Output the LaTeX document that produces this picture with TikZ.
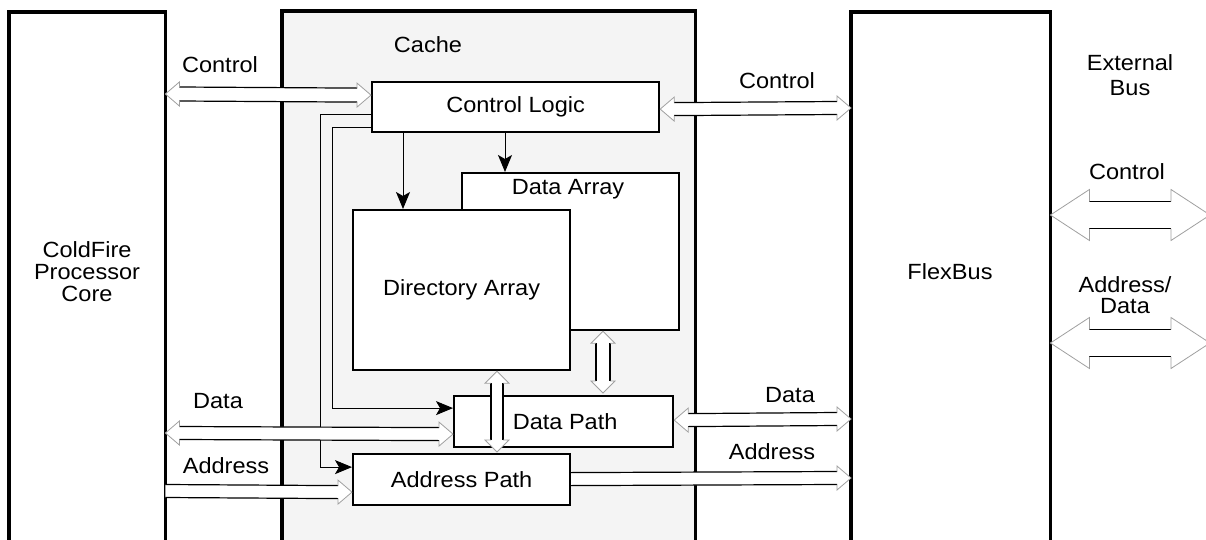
\documentclass[tikz,border=0pt]{standalone}
\usepackage{fontspec}
\setmainfont{Liberation Sans}[FakeStretch=1.07]
\usetikzlibrary{arrows.meta,calc}
\definecolor{cachebg}{HTML}{F4F4F4}
\definecolor{headgray}{HTML}{A0A0A0}

% horizontal hollow double arrow: #1 left tip, #2 right tip, #3 half body, #4 half head, #5 head length
\newcommand\dblH[5]{%
  \fill[white] (#1) -- ([shift={(#5,-#4)}]#1) -- ([shift={(#5,-#3)}]#1) -- ([shift={(-#5,-#3)}]#2) -- ([shift={(-#5,-#4)}]#2) -- (#2) -- ([shift={(-#5,#4)}]#2) -- ([shift={(-#5,#3)}]#2) -- ([shift={(#5,#3)}]#1) -- ([shift={(#5,#4)}]#1) -- cycle;
  \draw[bodyline] ([shift={(#5,-#3)}]#1) -- ([shift={(-#5,-#3)}]#2);
  \draw[bodyline] ([shift={(#5,#3)}]#1) -- ([shift={(-#5,#3)}]#2);
  \draw[headline] ([shift={(#5,-#3)}]#1) -- ([shift={(#5,-#4)}]#1) -- (#1) -- ([shift={(#5,#4)}]#1) -- ([shift={(#5,#3)}]#1);
  \draw[headline] ([shift={(-#5,-#3)}]#2) -- ([shift={(-#5,-#4)}]#2) -- (#2) -- ([shift={(-#5,#4)}]#2) -- ([shift={(-#5,#3)}]#2);
}
% horizontal hollow single arrow (head at right)
\newcommand\sglH[5]{%
  \fill[white] ([shift={(0,-#3)}]#1) -- ([shift={(-#5,-#3)}]#2) -- ([shift={(-#5,-#4)}]#2) -- (#2) -- ([shift={(-#5,#4)}]#2) -- ([shift={(-#5,#3)}]#2) -- ([shift={(0,#3)}]#1) -- cycle;
  \draw[bodyline] ([shift={(0,-#3)}]#1) -- ([shift={(-#5,-#3)}]#2);
  \draw[bodyline] ([shift={(0,#3)}]#1) -- ([shift={(-#5,#3)}]#2);
  \draw[headline] ([shift={(-#5,-#3)}]#2) -- ([shift={(-#5,-#4)}]#2) -- (#2) -- ([shift={(-#5,#4)}]#2) -- ([shift={(-#5,#3)}]#2);
}
% vertical hollow double arrow: #1 top tip, #2 bottom tip
\newcommand\dblV[5]{%
  \fill[white] (#1) -- ([shift={(-#4,#5)}]#1) -- ([shift={(-#3,#5)}]#1) -- ([shift={(-#3,-#5)}]#2) -- ([shift={(-#4,-#5)}]#2) -- (#2) -- ([shift={(#4,-#5)}]#2) -- ([shift={(#3,-#5)}]#2) -- ([shift={(#3,#5)}]#1) -- ([shift={(#4,#5)}]#1) -- cycle;
  \draw[bodyline] ([shift={(-#3,#5)}]#1) -- ([shift={(-#3,-#5)}]#2);
  \draw[bodyline] ([shift={(#3,#5)}]#1) -- ([shift={(#3,-#5)}]#2);
  \draw[headline] ([shift={(-#3,#5)}]#1) -- ([shift={(-#4,#5)}]#1) -- (#1) -- ([shift={(#4,#5)}]#1) -- ([shift={(#3,#5)}]#1);
  \draw[headline] ([shift={(-#3,-#5)}]#2) -- ([shift={(-#4,-#5)}]#2) -- (#2) -- ([shift={(#4,-#5)}]#2) -- ([shift={(#3,-#5)}]#2);
}

\begin{document}
\begin{tikzpicture}[x=1pt,y=-1pt,
  font=\fontsize{22}{22}\selectfont,
  bigbox/.style={draw=none,inner sep=0pt,anchor=north west},
  bigline/.style={line width=3.2pt},
  box/.style={draw,line width=2.2pt,fill=white,inner sep=0pt,anchor=north west},
  lbl/.style={inner sep=0pt,align=center},
  bodyline/.style={black,line width=1.2pt},
  headline/.style={headgray,line width=0.8pt,line join=miter},
  conn/.style={line width=1pt,-{Stealth[length=17pt,width=14pt,inset=4pt]}}]
\useasboundingbox (0,0) rectangle (1206,540);

% big blocks
\node[bigbox,minimum width=156,minimum height=528] (core) at (9,12) {};
\node[bigbox,fill=cachebg,minimum width=413,minimum height=529] (cache) at (282,11) {};
\node[bigbox,minimum width=199,minimum height=528] (flex) at (851,12) {};
\draw[bigline] (core.south west) |- (core.north east) -- (core.south east);
\draw[bigline] (cache.south west) |- (cache.north east) -- (cache.south east);
\draw[bigline] (flex.south west) |- (flex.north east) -- (flex.south east);

\node[lbl,font=\fontsize{22}{22}\selectfont] (coretxt) at (87,272) {ColdFire\\Processor\\Core};
\node[lbl] (cachetxt) at (428,45) {Cache};
\node[lbl] (flextxt) at (950,272) {FlexBus};
\node[lbl,font=\fontsize{22}{25}\selectfont] (exttxt) at (1130,75) {External\\Bus};

% inner blocks
\node[box,minimum width=287,minimum height=50] (ctl) at (371,81) {Control Logic};
\node[box,minimum width=217,minimum height=157] (da) at (461,172) {};
\node[lbl] (datxt) at (568,189) {Data Array};
\node[box,minimum width=217,minimum height=160] (dir) at (352,209) {Directory Array};
\node[box,minimum width=219,minimum height=51] (dp) at (453,395) {\hspace*{3pt}Data Path};
\node[box,minimum width=217,minimum height=51] (ap) at (352,453) {Address Path};

% control connectors
\coordinate (apin) at ($(ap.west)+(0,-12.5)$);
\coordinate (dpin) at ($(dp.west)+(0,-13.5)$);
\draw[conn] ($(ctl.west)+(0,7)$) -| ($(apin)+(-32,0)$) -- (apin);
\draw[conn] ($(ctl.west)+(0,20)$) -| ($(dpin)+(-121,0)$) -- (dpin);
\draw[conn] ($(ctl.south west)+(32,0)$) -- ($(dir.north west)+(51,0)$);
\draw[conn] ($(ctl.south west)+(134,0)$) -- ($(da.north west)+(44,0)$);

% hollow bus arrows
\coordinate (cl1) at ($(core.north east)+(0,82)$);
\coordinate (cl2) at ($(ctl.west)+(0,-12)$);
\dblH{cl1}{cl2}{7}{12}{14}
\coordinate (cr1) at ($(ctl.east)+(0,2)$);
\coordinate (cr2) at ($(flex.north west)+(0,96)$);
\dblH{cr1}{cr2}{6.5}{12}{14}
\coordinate (dl1) at ($(core.north east)+(0,421)$);
\coordinate (dl2) at ($(dp.west)+(0,12.5)$);
\dblH{dl1}{dl2}{6.5}{12}{14}
\coordinate (dr1) at ($(dp.east)+(0,-1.5)$);
\coordinate (dr2) at ($(flex.north west)+(0,407)$);
\dblH{dr1}{dr2}{6.5}{12}{14}
\coordinate (al1) at ($(core.north east)+(0,479)$);
\coordinate (al2) at ($(ap.west)+(0,12.5)$);
\sglH{al1}{al2}{6.5}{12}{14}
\coordinate (ar1) at ($(ap.east)+(0,-0.5)$);
\coordinate (ar2) at ($(flex.north west)+(0,466)$);
\sglH{ar1}{ar2}{6.5}{12}{14}
\coordinate (v1a) at ($(dir.south west)+(145,0)$);
\coordinate (v1b) at ($(ap.north west)+(145,-1)$);
\dblV{v1a}{v1b}{6}{12}{12}
\coordinate (v2a) at ($(da.south west)+(142,0)$);
\coordinate (v2b) at ($(dp.north west)+(150,-2)$);
\dblV{v2a}{v2b}{7}{12}{12}
\coordinate (ec1) at ($(flex.north east)+(0,203)$);
\coordinate (ec2) at (1210,215);
\dblH{ec1}{ec2}{13.5}{25.5}{39}
\coordinate (ed1) at ($(flex.north east)+(0,331)$);
\coordinate (ed2) at (1210,343);
\dblH{ed1}{ed2}{13.5}{25.5}{39}

% bus labels
\node[lbl] (lctl) at (220,65) {Control};
\node[lbl] (rctl) at (777,81) {Control};
\node[lbl] (ldata) at (218,401) {Data};
\node[lbl] (laddr) at (226,466) {Address};
\node[lbl] (rdata) at (790,395) {Data};
\node[lbl] (raddr) at (772,452) {Address};
\node[lbl] (ectl) at (1127,172) {Control};
\node[lbl,font=\fontsize{22}{21}\selectfont] (eaddr) at (1125,295) {Address/\\Data};
\end{tikzpicture}
\end{document}
